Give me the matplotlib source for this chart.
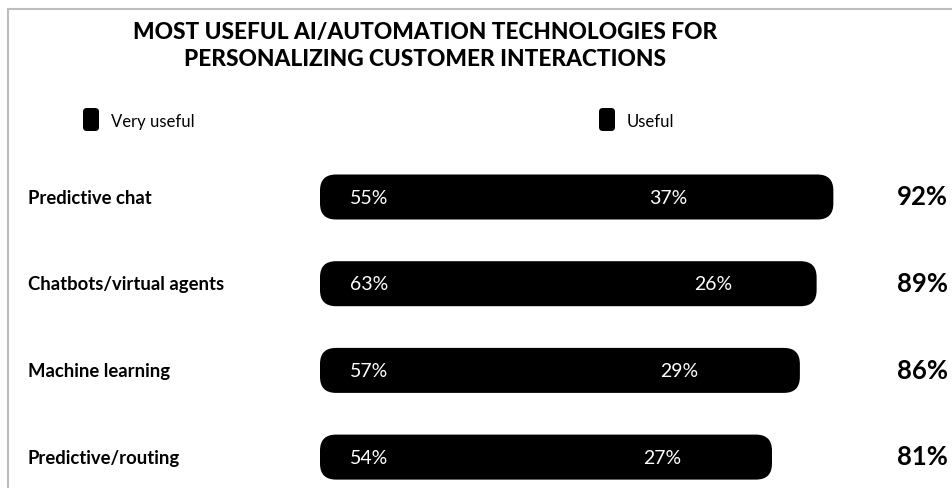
import matplotlib
matplotlib.use("Agg")
import matplotlib.pyplot as plt
from matplotlib.patches import FancyBboxPatch
from matplotlib.lines import Line2D
import matplotlib.transforms as mtransforms

plt.rcParams['font.family'] = ['Lato', 'DejaVu Sans']

categories = ["Predictive chat", "Chatbots/virtual agents", "Machine learning", "Predictive/routing"]
very_useful = [55, 63, 57, 54]
useful = [37, 26, 29, 27]
totals = [92, 89, 86, 81]
series_names = ["Very useful", "Useful"]
title = "MOST USEFUL AI/AUTOMATION TECHNOLOGIES FOR\nPERSONALIZING CUSTOMER INTERACTIONS"

W, H = 953, 489
fig = plt.figure(figsize=(W / 100, H / 100), dpi=100)
fig.patch.set_facecolor("white")

# axes: x origin at px 320, 5.58 px per percent; rows 86.7 px apart starting at px 198
x0_px, px_per_pct = 320, 5.58
ax_w_px = 100 * px_per_pct
row0_px, row_px = 198, 86.7
ax_top_px, ax_bot_px = 150, 489
ax = fig.add_axes([x0_px / W, 1 - ax_bot_px / H, ax_w_px / W, (ax_bot_px - ax_top_px) / H])
ax.set_xlim(0, 100)
ax.set_ylim((ax_bot_px - row0_px) / row_px, (ax_top_px - row0_px) / row_px)
ax.axis("off")

bar_h = 45 / row_px
radius_px = 16
x_per_px = 100 / ax_w_px
y_per_px = 1 / row_px
aspect = y_per_px / x_per_px

for i, (v, u) in enumerate(zip(very_useful, useful)):
    total = v + u
    patch = FancyBboxPatch((0, i - bar_h / 2), total, bar_h,
                           boxstyle=f"round,pad=0,rounding_size={radius_px * x_per_px}",
                           mutation_aspect=aspect, facecolor="black", edgecolor="none")
    ax.add_patch(patch)
    ax.text(5.4, i, f"{v}%", color="white", fontsize=14, va="center", ha="left")
    ax.text(v + 4, i, f"{u}%", color="white", fontsize=14, va="center", ha="left")

trans = mtransforms.blended_transform_factory(fig.transFigure, ax.transData)
for i, (cat, t) in enumerate(zip(categories, totals)):
    ax.text(28 / W, i, cat, transform=trans, fontsize=13.3, fontweight="bold", va="center", ha="left")
    ax.text(948 / W, i - 0.01, f"{t}%", transform=trans, fontsize=18.5, fontweight="bold",
            va="center", ha="right")

# title
fig.text(425 / W, 1 - 46 / H, title, ha="center", va="center", fontsize=16.3,
         fontweight="black", linespacing=1.3)

# legend
legend_items = [(83, series_names[0]), (599, series_names[1])]
for xpx, name in legend_items:
    sq = FancyBboxPatch((xpx / W, 1 - 132 / H), 16 / W, 23 / H,
                        boxstyle="round,pad=0,rounding_size=0.004",
                        transform=fig.transFigure, facecolor="black", edgecolor="none",
                        mutation_aspect=W / H)
    fig.patches.append(sq)
    fig.text((xpx + 28) / W, 1 - 122 / H, name, ha="left", va="center", fontsize=12)

# frame lines
fig.lines.append(Line2D([8 / W, 8 / W], [0, 1 - 10 / H], transform=fig.transFigure,
                        color="#bdbdbd", linewidth=1.5))
fig.lines.append(Line2D([8 / W, 1], [1 - 10 / H, 1 - 10 / H], transform=fig.transFigure,
                        color="#bdbdbd", linewidth=1.5))

fig.savefig("out.png", dpi=100, facecolor="white")
